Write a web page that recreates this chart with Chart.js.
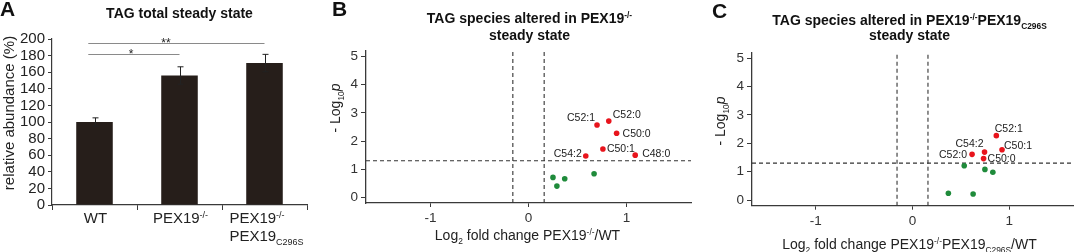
<!DOCTYPE html>
<html>
<head>
<meta charset="utf-8">
<script src="https://cdn.jsdelivr.net/npm/chart.js@4/dist/chart.umd.min.js"></script>
<style>
  body { margin: 0; background: #fff; }
  #wrap { position: relative; width: 1077px; height: 252px; overflow: hidden; }
  canvas { position: absolute; top: 0; }
</style>
</head>
<body>
<div id="wrap">
  <canvas id="chartA" width="330" height="252" style="left:0px"></canvas>
  <canvas id="chartB" width="370" height="252" style="left:330px"></canvas>
  <canvas id="chartC" width="377" height="252" style="left:700px"></canvas>
</div>
<script>
// ---- panel A: total TAG ----
// ^{..} = superscript, _{..} = subscript, ~{..} = italic
const groups = ['WT', 'PEX19^{-/-}', ['PEX19^{-/-}', 'PEX19_{C296S}']];
const abundance = [100, 156, 171];
const abundanceErr = [5, 10.5, 10.5];
const sigFrom = [0, 0];
const sigTo = [1, 2];
const sigMarks = ['*', '**'];

// ---- panel B: PEX19-/- vs WT ----
const speciesB = ['C52:1', 'C52:0', 'C50:0', 'C50:1', 'C48:0', 'C54:2'];
const log2fcB = [0.70, 0.82, 0.90, 0.76, 1.09, 0.585];
const logpB = [2.57, 2.71, 2.28, 1.72, 1.50, 1.47];
const log2fcB_ns = [0.25, 0.29, 0.37, 0.67];
const logpB_ns = [0.71, 0.40, 0.66, 0.84];

// ---- panel C: PEX19-/-PEX19C296S vs WT ----
const speciesC = ['C52:1', 'C50:1', 'C54:2', 'C52:0', 'C50:0'];
const log2fcC = [0.867, 0.926, 0.745, 0.616, 0.735];
const logpC = [2.27, 1.77, 1.69, 1.61, 1.46];
const log2fcC_ns = [0.535, 0.749, 0.831, 0.371, 0.627];
const logpC_ns = [1.21, 1.08, 0.98, 0.24, 0.21];

const fcCutoff = 0.16;
const pCutoff = 1.3;
const xRange = [-1.66, 1.66];
const yRange = [-0.2, 5.2];

const FONT = "'Liberation Sans', Arial, Helvetica, sans-serif";
const AXIS = '#3a3a3a';
const RED = '#e8141c';
const GREEN = '#1f8b3b';

function parseRich(s) {
  const out = [];
  const re = /([\^_~])\{([^}]*)\}/g;
  let last = 0, m;
  while ((m = re.exec(s))) {
    if (m.index > last) out.push({ t: s.slice(last, m.index), k: '' });
    out.push({ t: m[2], k: m[1] });
    last = re.lastIndex;
  }
  if (last < s.length) out.push({ t: s.slice(last), k: '' });
  return out;
}

function segFont(seg, size, weight) {
  const small = seg.k === '^' || seg.k === '_';
  const style = seg.k === '~' ? 'italic ' : '';
  return style + weight + ' ' + (small ? size * 0.6 : size) + 'px ' + FONT;
}

function richWidth(ctx, str, size, weight) {
  let w = 0;
  for (const seg of parseRich(str)) {
    ctx.font = segFont(seg, size, weight);
    w += ctx.measureText(seg.t).width;
  }
  return w;
}

// y is the vertical centre of the capitals
function drawRich(ctx, str, x, y, o) {
  const size = o.size, weight = o.weight || 'normal';
  ctx.save();
  ctx.translate(x, y);
  if (o.rotate) ctx.rotate(-Math.PI / 2);
  ctx.fillStyle = o.color || '#222';
  ctx.textAlign = 'left';
  ctx.textBaseline = 'alphabetic';
  const w = richWidth(ctx, str, size, weight);
  let cx = o.align === 'left' ? 0 : o.align === 'right' ? -w : -w / 2;
  const base = size * 0.358;
  for (const seg of parseRich(str)) {
    ctx.font = segFont(seg, size, weight);
    let dy = 0;
    if (seg.k === '^') dy = -size * 0.36;
    if (seg.k === '_') dy = size * 0.3;
    ctx.fillText(seg.t, cx, base + dy);
    cx += ctx.measureText(seg.t).width;
  }
  ctx.restore();
}

function panelText(spec) {
  return {
    id: 'panelText',
    afterDraw(chart) {
      const ctx = chart.ctx, area = chart.chartArea;
      const cx = (area.left + area.right) / 2;
      drawRich(ctx, spec.letter, spec.letterX, spec.letterY, { size: 21, weight: 'bold', align: 'left', color: '#111' });
      spec.title.forEach((t, i) => {
        drawRich(ctx, t, cx + (spec.titleDx || 0), spec.titleY[i], { size: 14, weight: 'bold', color: '#111' });
      });
      drawRich(ctx, spec.yTitle, spec.yTitleX, spec.yTitleY, { size: spec.yTitleSize, rotate: true, color: '#222' });
      if (spec.xTitle) {
        drawRich(ctx, spec.xTitle, cx + (spec.xTitleDx || 0), spec.xTitleY, { size: 14, color: '#222' });
      }
    }
  };
}

// ---- chart A ----
const errorBars = {
  id: 'errorBars',
  afterDatasetsDraw(chart) {
    const ctx = chart.ctx, y = chart.scales.y, x = chart.scales.x;
    const meta = chart.getDatasetMeta(0);
    ctx.save();
    ctx.strokeStyle = '#222';
    ctx.lineWidth = 1;
    meta.data.forEach((bar, i) => {
      const px = Math.round(bar.x) + 0.5;
      const top = y.getPixelForValue(abundance[i] + abundanceErr[i]);
      const bot = y.getPixelForValue(abundance[i] - abundanceErr[i]);
      ctx.beginPath();
      ctx.moveTo(px, top); ctx.lineTo(px, bot);
      ctx.moveTo(px - 3, top); ctx.lineTo(px + 3, top);
      ctx.moveTo(px - 3, bot); ctx.lineTo(px + 3, bot);
      ctx.stroke();
    });
    // significance lines
    const lineVals = [181.6, 195.5];
    const markPos = [0.43, 0.84];
    sigMarks.forEach((mark, i) => {
      const py = Math.round(y.getPixelForValue(lineVals[i])) + 0.5;
      ctx.strokeStyle = '#8a8a8a';
      ctx.beginPath();
      ctx.moveTo(x.getPixelForValue(sigFrom[i] - 0.073), py);
      ctx.lineTo(x.getPixelForValue(sigTo[i]), py);
      ctx.stroke();
      ctx.fillStyle = '#222';
      ctx.font = '12px ' + FONT;
      ctx.textAlign = 'center';
      ctx.textBaseline = 'alphabetic';
      ctx.fillText(mark, x.getPixelForValue(markPos[i]), py + 3);
    });
    // category labels with super/subscripts
    groups.forEach((g, i) => {
      const lines = Array.isArray(g) ? g : [g];
      const c = x.getPixelForValue(i);
      if (lines.length === 1) {
        drawRich(ctx, lines[0], c + 1, 218, { size: 15, color: '#222' });
      } else {
        const w = Math.max(...lines.map(l => richWidth(ctx, l, 15, 'normal')));
        lines.forEach((l, j) => drawRich(ctx, l, c - w / 2 + 2, 218 + j * 17.5, { size: 15, align: 'left', color: '#222' }));
      }
    });
    ctx.restore();
  }
};

new Chart(document.getElementById('chartA'), {
  type: 'bar',
  data: {
    labels: groups.map(g => Array.isArray(g) ? g.join(' ') : g),
    datasets: [{
      data: abundance,
      backgroundColor: '#261e1a',
      categoryPercentage: 0.86,
      barPercentage: 0.5
    }]
  },
  options: {
    responsive: false,
    animation: false,
    events: [],
    layout: { padding: { top: 39, right: 23, left: 0, bottom: 0 } },
    plugins: { legend: { display: false }, tooltip: { enabled: false } },
    scales: {
      x: {
        grid: { offset: true, drawOnChartArea: false, tickLength: 5, color: AXIS },
        border: { color: AXIS, width: 1.2 },
        ticks: { display: false },
        afterFit: s => { s.height = 47; }
      },
      y: {
        min: 0, max: 200,
        ticks: { stepSize: 20, autoSkip: false, font: { family: FONT, size: 15 }, color: '#222', padding: 3 },
        grid: { drawOnChartArea: false, tickLength: 4, color: AXIS },
        border: { color: AXIS, width: 1.2 },
        afterFit: s => { s.width = 52; }
      }
    }
  },
  plugins: [errorBars, panelText({
    letter: 'A', letterX: 0, letterY: 8.5,
    title: ['TAG total steady state'], titleY: [13],
    yTitle: 'relative abundance (%)', yTitleX: 9, yTitleY: 113, yTitleSize: 15
  })]
});

// ---- volcano charts ----
function pointLabels(names, place) {
  return {
    id: 'pointLabels',
    afterDatasetsDraw(chart) {
      const ctx = chart.ctx;
      const meta = chart.getDatasetMeta(0);
      ctx.save();
      names.forEach((n, i) => {
        const p = meta.data[i];
        const [side, dx, dy] = place[i];
        drawRich(ctx, n, p.x + dx, p.y + dy, { size: 10.5, align: side, color: '#222' });
      });
      ctx.restore();
    }
  };
}

function volcano(id, fc, lp, fcNs, lpNs, names, place, geo, spec) {
  const dash = { showLine: true, borderColor: '#333', borderWidth: 1.1, borderDash: [4, 3], pointRadius: 0, fill: false };
  new Chart(document.getElementById(id), {
    type: 'scatter',
    data: {
      datasets: [
        { data: fc.map((v, i) => ({ x: v, y: lp[i] })), backgroundColor: RED, pointRadius: 2.8, borderWidth: 0 },
        { data: fcNs.map((v, i) => ({ x: v, y: lpNs[i] })), backgroundColor: GREEN, pointRadius: 2.8, borderWidth: 0 },
        Object.assign({ data: [{ x: -fcCutoff, y: yRange[0] }, { x: -fcCutoff, y: yRange[1] }] }, dash),
        Object.assign({ data: [{ x: fcCutoff, y: yRange[0] }, { x: fcCutoff, y: yRange[1] }] }, dash),
        Object.assign({ data: [{ x: xRange[0], y: pCutoff }, { x: xRange[1], y: pCutoff }] }, dash)
      ]
    },
    options: {
      responsive: false,
      animation: false,
      events: [],
      layout: { padding: { top: geo.top, right: geo.right, left: 0, bottom: 0 } },
      plugins: { legend: { display: false }, tooltip: { enabled: false } },
      scales: {
        x: {
          type: 'linear', min: xRange[0], max: xRange[1],
          ticks: { stepSize: 1, includeBounds: false, font: { family: FONT, size: 13.5 }, color: '#333', padding: 3 },
          grid: { drawOnChartArea: false, tickLength: 4, color: AXIS },
          border: { color: AXIS, width: 1.3 },
          afterFit: s => { s.height = geo.xh; }
        },
        y: {
          min: yRange[0], max: yRange[1],
          ticks: { stepSize: 1, includeBounds: false, autoSkip: false, font: { family: FONT, size: 13.5 }, color: '#333', padding: 3 },
          grid: { drawOnChartArea: false, tickLength: 5, color: AXIS },
          border: { color: AXIS, width: 1.3 },
          afterFit: s => { s.width = geo.yw; }
        }
      }
    },
    plugins: [pointLabels(names, place), panelText(spec)]
  });
}

volcano('chartB', log2fcB, logpB, log2fcB_ns, logpB_ns, speciesB,
  [['right', -2, -8], ['left', 4, -7], ['left', 6, 0], ['left', 4, -1], ['left', 7, -2], ['right', -4, -3]],
  { top: 51, right: 9, yw: 36, xh: 49 },
  {
    letter: 'B', letterX: 2, letterY: 8.5,
    title: ['TAG species altered in PEX19^{-/-}', 'steady state'], titleY: [18, 35], titleDx: 1,
    yTitle: '- Log_{10}~{p}', yTitleX: 5, yTitleY: 108, yTitleSize: 14,
    xTitle: 'Log_{2} fold change PEX19^{-/-}/WT', xTitleY: 235, xTitleDx: -1
  });

volcano('chartC', log2fcC, logpC, log2fcC_ns, logpC_ns, speciesC,
  [['left', -1.6, -7], ['left', 2, -5], ['right', -1, -9], ['right', -5, 0], ['left', 4, 0]],
  { top: 52.5, right: 0, yw: 52, xh: 46.3 },
  {
    letter: 'C', letterX: 12, letterY: 10,
    title: ['TAG species altered in PEX19^{-/-}PEX19_{C296S}', 'steady state'], titleY: [20, 35], titleDx: -3,
    yTitle: '- Log_{10}~{p}', yTitleX: 20, yTitleY: 121, yTitleSize: 14,
    xTitle: 'Log_{2} fold change PEX19^{-/-}PEX19_{C296S}/WT', xTitleY: 244, xTitleDx: -3
  });
</script>
</body>
</html>
